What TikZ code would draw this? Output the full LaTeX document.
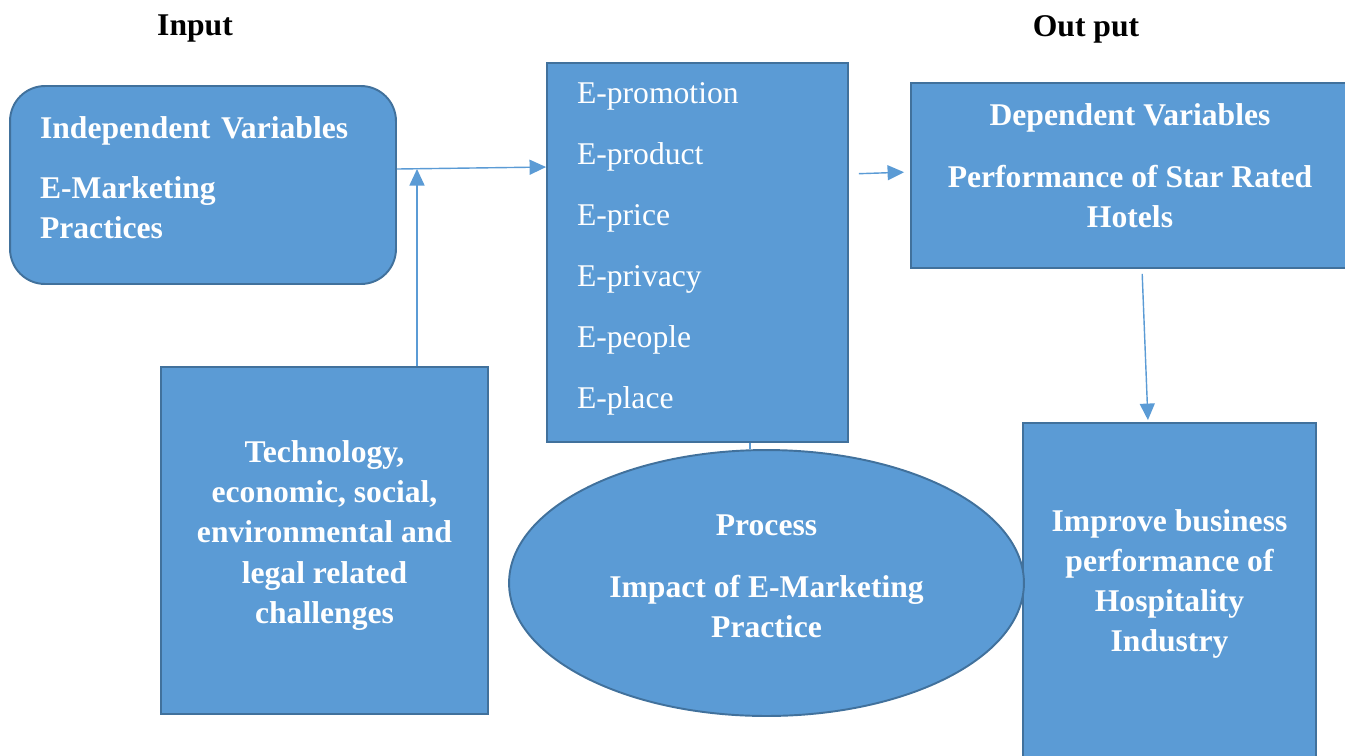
\documentclass[tikz,border=0pt]{standalone}
\usepackage{fontspec}
\setmainfont{Liberation Serif}
\usetikzlibrary{positioning, arrows.meta, shapes.geometric}
\definecolor{boxfill}{HTML}{5B9BD5}
\definecolor{boxedge}{HTML}{41719C}

\begin{document}
\begin{tikzpicture}[x=0.02cm, y=-0.02cm,
  box/.style={draw=boxedge, line width=1.1pt, fill=boxfill, inner sep=0pt},
  boxtext/.style={text=white, align=center, inner sep=0pt,
              font=\fontsize{18}{22.8}\selectfont\bfseries},
  head/.style={font=\fontsize{18}{22.8}\selectfont\bfseries},
  arr/.style={-{Triangle[length=0.33cm, width=0.3cm]}, line width=0.8pt, boxfill},
  link/.style={line width=0.8pt, boxfill}]
  \useasboundingbox (0,0) rectangle (1345,755);
  \node[head] (inhead) at (195,29) {Input};
  \node[head] (outhead) at (1086,29) {Out put};
  % boxes
  \node[box, rounded corners=0.7cm, minimum width=7.72cm, minimum height=3.96cm] (indep) at (203,185) {};
  \node[box, minimum width=6.02cm, minimum height=7.58cm] (emix) at (697.5,252.5) {};
  \node[box, minimum width=8.76cm, minimum height=3.7cm] (depvar) at (1130,175.5) {};
  \node[box, minimum width=6.54cm, minimum height=6.94cm] (challenges) at (324.5,540.5) {};
  \node[box, minimum width=5.86cm, minimum height=6.72cm] (improve) at (1169.5,591) {};
  \node[box, ellipse, minimum width=10.3cm, minimum height=5.32cm] (process) at (766.5,583) {};
  % box texts
  \node[boxtext, text width=6.52cm, align=left] (indeptext) at ([yshift=0.14cm]indep.center)
        {Independent Variables\\[0.4cm]E-Marketing\\Practices};
  \node[boxtext, text width=4.82cm, align=left, font=\fontsize{18}{34.7}\selectfont] (emixtext)
        at ([yshift=0.08cm]emix.center)
        {E-promotion\\E-product\\E-price\\E-privacy\\E-people\\E-place};
  \node[boxtext] (depvartext) at ([yshift=0.2cm]depvar.center)
        {Dependent Variables\\[0.44cm]Performance of Star Rated\\Hotels};
  \node[boxtext] (challengestext) at ([yshift=0.1cm]challenges.center)
        {Technology,\\economic, social,\\environmental and\\legal related\\challenges};
  \node[boxtext] (improvetext) at ([yshift=0.14cm]improve.center)
        {Improve business\\performance of\\Hospitality\\Industry};
  \node[boxtext] (processtext) at ([yshift=0.14cm]process.center)
        {Process\\[0.44cm]Impact of E-Marketing\\Practice};
  % connectors
  \coordinate (join) at (417,169);
  \draw[arr] ([yshift=0.32cm]indep.east) -- ([yshift=1.71cm]emix.west);
  \draw[arr] (challenges.north -| join) -- (join);
  \draw[arr, shorten <=0.2cm, shorten >=0.12cm] ([yshift=1.57cm]emix.east) -- ([yshift=0.07cm]depvar.west);
  \draw[arr, shorten <=0.1cm, shorten >=0.04cm] ([xshift=0.24cm]depvar.south) -- ([xshift=-0.43cm]improve.north);
  \draw[link] ([xshift=1.05cm]emix.south) -- ([xshift=1.05cm]emix.south |- process.north);
\end{tikzpicture}
\end{document}
